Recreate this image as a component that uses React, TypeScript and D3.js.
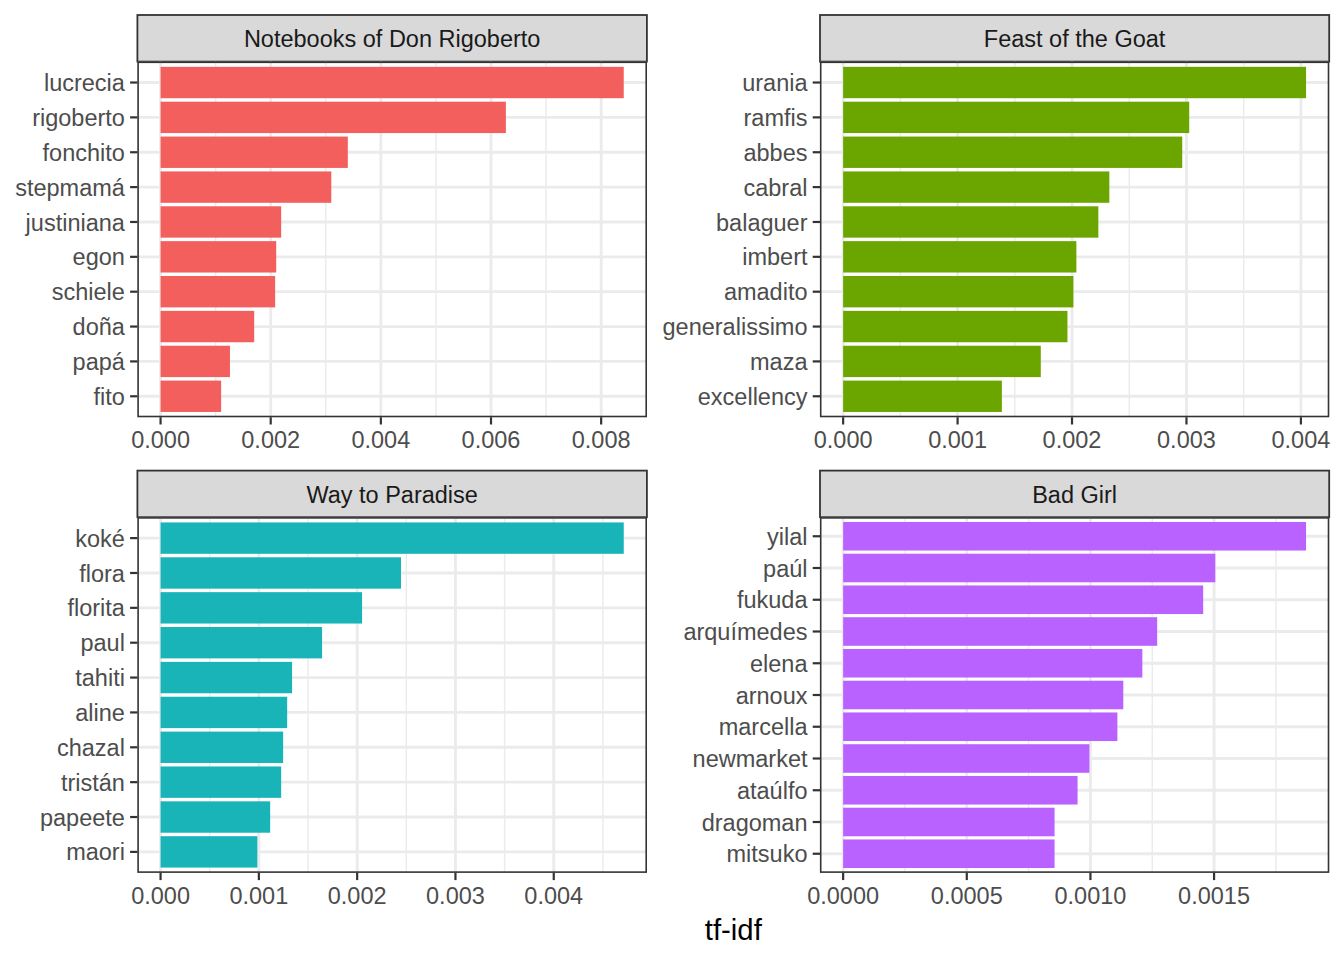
import React from "react";
import * as d3 from "d3";

// ---------- DATA ----------
const titles = ["Notebooks of Don Rigoberto", "Feast of the Goat", "Way to Paradise", "Bad Girl"];

const wordsNotebooks = ["lucrecia", "rigoberto", "fonchito", "stepmamá", "justiniana", "egon", "schiele", "doña", "papá", "fito"];
const valuesNotebooks = [0.00841, 0.00627, 0.00340, 0.00310, 0.00219, 0.00210, 0.00208, 0.00170, 0.00126, 0.00110];

const wordsFeast = ["urania", "ramfis", "abbes", "cabral", "balaguer", "imbert", "amadito", "generalissimo", "maza", "excellency"];
const valuesFeast = [0.004045, 0.003024, 0.002963, 0.002326, 0.00223, 0.002038, 0.002012, 0.00196, 0.001727, 0.001387];

const wordsParadise = ["koké", "flora", "florita", "paul", "tahiti", "aline", "chazal", "tristán", "papeete", "maori"];
const valuesParadise = [0.004712, 0.002446, 0.00205, 0.001643, 0.001338, 0.001288, 0.001247, 0.001227, 0.001115, 0.000985];

const wordsBadGirl = ["yilal", "paúl", "fukuda", "arquímedes", "elena", "arnoux", "marcella", "newmarket", "ataúlfo", "dragoman", "mitsuko"];
const valuesBadGirl = [0.001872, 0.001505, 0.001456, 0.00127, 0.00121, 0.001133, 0.001109, 0.000996, 0.000948, 0.000855, 0.000855];

const fills = ["#F35F5C", "#6BA500", "#18B4B8", "#B962FF"];

const ticksNotebooks = [0, 0.002, 0.004, 0.006, 0.008];
const ticksFeast = [0, 0.001, 0.002, 0.003, 0.004];
const ticksParadise = [0, 0.001, 0.002, 0.003, 0.004];
const ticksBadGirl = [0, 0.0005, 0.001, 0.0015];
const tickDecimals = [3, 3, 3, 4];

const xTitle = "tf-idf";

// ---------- LAYOUT ----------
const W = 1344;
const H = 960;
const FONT = "'Liberation Sans', Arial, Helvetica, sans-serif";
const colLeft = [137.4, 820];
const colRight = [646.9, 1329.2];
const stripTop = [15, 470.6];
const stripH = 46.6;
const panelH = 355.6;

type PanelProps = {
  idx: number;
  words: string[];
  values: number[];
  ticks: number[];
};

function Panel({ idx, words, values, ticks }: PanelProps) {
  const col = idx % 2;
  const row = Math.floor(idx / 2);
  const left = colLeft[col];
  const right = colRight[col];
  const sTop = stripTop[row];
  const top = sTop + stripH;
  const bottom = top + panelH;
  const max = d3.max(values) as number;
  const x = d3.scaleLinear().domain([-0.05 * max, 1.05 * max]).range([left, right]);
  const n = words.length;
  const y = d3.scaleLinear().domain([0.4, n + 0.6]).range([bottom, top]);
  const unit = Math.abs(y(1) - y(0));
  const bw = 0.9 * unit;
  const step = ticks[1] - ticks[0];
  const [d0, d1] = x.domain();
  const minor: number[] = [];
  for (let v = ticks[0] - step / 2; v <= d1; v += step) {
    if (v >= d0) minor.push(v);
  }
  const fmt = d3.format(`.${tickDecimals[idx]}f`);
  const clipId = `clip${idx}`;
  return (
    <g>
      <defs>
        <clipPath id={clipId}>
          <rect x={left} y={top} width={right - left} height={bottom - top} />
        </clipPath>
      </defs>
      {/* strip */}
      <rect x={left} y={sTop} width={right - left} height={stripH} fill="#D9D9D9" stroke="#333333" strokeWidth={1.8} />
      <text x={(left + right) / 2} y={sTop + stripH / 2 + 8.6} textAnchor="middle" fontSize={23.5} fill="#1A1A1A" fontFamily={FONT}>
        {titles[idx]}
      </text>
      <g clipPath={`url(#${clipId})`}>
        <rect x={left} y={top} width={right - left} height={bottom - top} fill="#FFFFFF" />
        {minor.map((v, i) => (
          <line key={"mn" + i} x1={x(v)} x2={x(v)} y1={top} y2={bottom} stroke="#EBEBEB" strokeWidth={1.42} />
        ))}
        {ticks.map((v, i) => (
          <line key={"mj" + i} x1={x(v)} x2={x(v)} y1={top} y2={bottom} stroke="#EBEBEB" strokeWidth={2.84} />
        ))}
        {words.map((w, i) => (
          <line key={"hg" + i} x1={left} x2={right} y1={y(n - i)} y2={y(n - i)} stroke="#EBEBEB" strokeWidth={2.84} />
        ))}
        {words.map((w, i) => (
          <rect
            key={"b" + i}
            x={x(0)}
            y={y(n - i) - bw / 2}
            width={x(values[i]) - x(0)}
            height={bw}
            fill={fills[idx]}
          />
        ))}
      </g>
      <rect x={left + 0.7} y={top + 0.7} width={right - left - 1.4} height={bottom - top - 1.4} fill="none" stroke="#333333" strokeWidth={1.6} />
      {/* y axis */}
      {words.map((w, i) => (
        <g key={"yt" + i}>
          <line x1={left - 7.3} x2={left} y1={y(n - i)} y2={y(n - i)} stroke="#333333" strokeWidth={2.2} />
          <text x={left - 12.5} y={y(n - i) + 8.6} textAnchor="end" fontSize={23.5} fill="#4D4D4D" fontFamily={FONT}>
            {w}
          </text>
        </g>
      ))}
      {/* x axis */}
      {ticks.map((v, i) => (
        <g key={"xt" + i}>
          <line x1={x(v)} x2={x(v)} y1={bottom} y2={bottom + 7.3} stroke="#333333" strokeWidth={2.2} />
          <text x={x(v)} y={bottom + 31.2} textAnchor="middle" fontSize={23.5} fill="#4D4D4D" fontFamily={FONT}>
            {fmt(v)}
          </text>
        </g>
      ))}
    </g>
  );
}

export default function App() {
  const panels = [
    { words: wordsNotebooks, values: valuesNotebooks, ticks: ticksNotebooks },
    { words: wordsFeast, values: valuesFeast, ticks: ticksFeast },
    { words: wordsParadise, values: valuesParadise, ticks: ticksParadise },
    { words: wordsBadGirl, values: valuesBadGirl, ticks: ticksBadGirl },
  ];
  return (
    <svg width={W} height={H} style={{ position: "absolute", left: 0, top: 0, background: "#FFFFFF" }}>
      <rect x={0} y={0} width={W} height={H} fill="#FFFFFF" />
      {panels.map((p, i) => (
        <Panel key={i} idx={i} words={p.words} values={p.values} ticks={p.ticks} />
      ))}
      <text x={(colLeft[0] + colRight[1]) / 2} y={940} textAnchor="middle" fontSize={29.3} fill="#000000" fontFamily={FONT}>
        {xTitle}
      </text>
    </svg>
  );
}
